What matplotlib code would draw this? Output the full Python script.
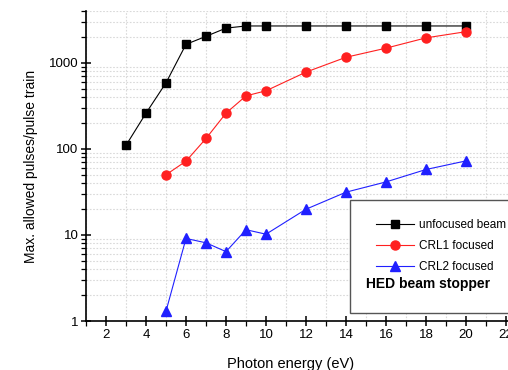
import numpy as np
import matplotlib.pyplot as plt
from matplotlib.patches import Rectangle
from matplotlib.ticker import FixedLocator, LogLocator, NullFormatter, FixedFormatter

plt.rcParams['font.family'] = ['Liberation Sans', 'DejaVu Sans']

# data
x_unfoc = [3, 4, 5, 6, 7, 8, 9, 10, 12, 14, 16, 18, 20]
y_unfoc = [110, 260, 585, 1640, 2030, 2530, 2680, 2680, 2680, 2680, 2680, 2680, 2680]
x_crl1 = [5, 6, 7, 8, 9, 10, 12, 14, 16, 18, 20]
y_crl1 = [50, 72, 132, 260, 413, 473, 780, 1160, 1480, 1950, 2300]
x_crl2 = [5, 6, 7, 8, 9, 10, 12, 14, 16, 18, 20]
y_crl2 = [1.3, 9.1, 8.1, 6.4, 11.5, 10.2, 19.9, 31.4, 41.3, 57.6, 72.5]
x_ticks = [2, 4, 6, 8, 10, 12, 14, 16, 18, 20, 22]


def main():
    fig = plt.figure(figsize=(5.08, 3.70), dpi=100)
    # axes run past the right edge: the original picture is cropped there
    ax = fig.add_axes([86 / 508, 49 / 370, 440 / 508, 310 / 370])

    ax.plot(x_unfoc, y_unfoc, color='black', lw=0.8, marker='s', ms=6, label='unfocused beam')
    ax.plot(x_crl1, y_crl1, color='#ff2020', lw=0.8, marker='o', ms=6.5, label='CRL1 focused')
    ax.plot(x_crl2, y_crl2, color='#2020ff', lw=0.8, marker='^', ms=7, label='CRL2 focused')

    ax.set_yscale('log')
    ax.set_xlim(1, 23)
    ax.set_ylim(1, 4000)

    ax.xaxis.set_major_locator(FixedLocator(x_ticks))
    ax.xaxis.set_minor_locator(FixedLocator([1, 3, 5, 7, 9, 11, 13, 15, 17, 19, 21, 23]))
    ax.yaxis.set_major_locator(FixedLocator([1, 10, 100, 1000]))
    ax.yaxis.set_major_formatter(FixedFormatter(['1', '10', '100', '1000']))
    ax.yaxis.set_minor_locator(LogLocator(base=10, subs=np.arange(2, 10)))
    ax.yaxis.set_minor_formatter(NullFormatter())

    ax.grid(which='minor', color='#d9d9d9', linestyle=(0, (1.5, 1.5)), lw=0.8)
    ax.set_axisbelow(True)

    for s in ['top', 'right']:
        ax.spines[s].set_visible(False)
    ax.spines['left'].set_linewidth(1.2)
    ax.spines['bottom'].set_linewidth(1.2)

    ax.tick_params(which='major', direction='inout', length=7, width=1.1, labelsize=9.5, pad=2)
    ax.tick_params(which='minor', direction='out', length=3.5, width=0.9)

    ax.set_xlabel('Photon energy (eV)', fontsize=10.5)
    ax.xaxis.set_label_coords(0.464, -0.115)
    ax.set_ylabel('Max. allowed pulses/pulse train', fontsize=10)
    ax.yaxis.set_label_coords(-0.109, 0.5)

    box = Rectangle((350 / 508, 57 / 370), 0.4, 113 / 370, transform=fig.transFigure,
                    facecolor='white', edgecolor='#555555', lw=1, zorder=4, clip_on=False)
    ax.add_patch(box)
    leg = ax.legend(loc='upper left', bbox_to_anchor=(370 / 508, 1 - 213 / 370),
                    bbox_transform=fig.transFigure, frameon=False, fontsize=8.5,
                    handlelength=3.2, labelspacing=0.78, handletextpad=0.45, borderpad=0)
    leg.set_zorder(5)
    ax.text(366 / 508, 1 - 284 / 370, 'HED beam stopper', fontsize=10, fontweight='bold',
            va='center', ha='left', zorder=6, transform=fig.transFigure)

    fig.savefig('out.png', dpi=100)


if __name__ == "__main__":
    main()
